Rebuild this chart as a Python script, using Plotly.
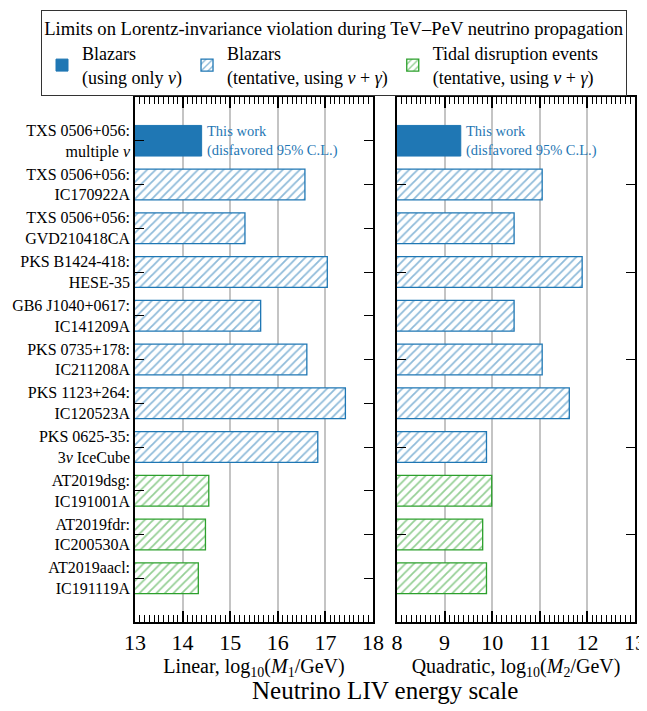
import plotly.graph_objects as go
from plotly.subplots import make_subplots

labels = [
    "TXS 0506+056:<br>multiple <i>ν</i>",
    "TXS 0506+056:<br>IC170922A",
    "TXS 0506+056:<br>GVD210418CA",
    "PKS B1424-418:<br>HESE-35",
    "GB6 J1040+0617:<br>IC141209A",
    "PKS 0735+178:<br>IC211208A",
    "PKS 1123+264:<br>IC120523A",
    "PKS 0625-35:<br>3<i>ν</i> IceCube",
    "AT2019dsg:<br>IC191001A",
    "AT2019fdr:<br>IC200530A",
    "AT2019aacl:<br>IC191119A",
]
# source class for each row: 0 = blazar (only nu), 1 = blazar tentative, 2 = TDE tentative
kind = [0, 1, 1, 1, 1, 1, 1, 1, 2, 2, 2]

linear_log10_M1 = [14.40, 16.57, 15.31, 17.04, 15.64, 16.61, 17.42, 16.84, 14.55, 14.48, 14.33]
quadratic_log10_M2 = [9.34, 11.05, 10.46, 11.89, 10.46, 11.05, 11.62, 9.88, 9.99, 9.80, 9.88]

group_names = [
    "Blazars<br>(using only <i>ν</i>)",
    "Blazars<br>(tentative, using <i>ν</i> + <i>γ</i>)",
    "Tidal disruption events<br>(tentative, using <i>ν</i> + <i>γ</i>)",
]
blue = "#1f77b4"
green = "#2ca02c"
group_colors = [blue, blue, green]
group_hatched = [False, True, True]

x_left_range = [13, 18]
x_right_range = [8, 13]
annot_text = "This work<br>(disfavored 95% C.L.)"

FONT = "Liberation Serif"

fig = make_subplots(rows=1, cols=2, shared_yaxes=False, horizontal_spacing=0.048)

for col, vals in [(1, linear_log10_M1), (2, quadratic_log10_M2)]:
    for g in range(3):
        ys = [labels[i] for i in range(len(labels)) if kind[i] == g]
        xs = [vals[i] for i in range(len(labels)) if kind[i] == g]
        c = group_colors[g]
        if group_hatched[g]:
            marker = dict(color="white", line=dict(color=c, width=1.3),
                          pattern=dict(shape="/", fgcolor=c, bgcolor="white",
                                       size=6, solidity=0.3))
        else:
            marker = dict(color=c, line=dict(color=c, width=1))
        fig.add_trace(go.Bar(
            x=xs, y=ys, orientation="h", width=0.7, marker=marker,
            name=group_names[g], showlegend=(col == 1),
            legendgroup=str(g),
        ), row=1, col=col)

# annotations "This work"
fig.add_annotation(x=linear_log10_M1[0], y=labels[0], xref="x", yref="y",
                   text=annot_text, showarrow=False, xanchor="left", align="left",
                   xshift=3, font=dict(family=FONT, size=14.5, color=blue))
fig.add_annotation(x=quadratic_log10_M2[0], y=labels[0], xref="x2", yref="y2",
                   text=annot_text, showarrow=False, xanchor="left", align="left",
                   xshift=3, font=dict(family=FONT, size=14.5, color=blue))

xcommon = dict(
    showgrid=True, gridcolor="#c4c4c4", gridwidth=1.5,
    showline=True, linecolor="black", linewidth=1.5, mirror="allticks",
    tickmode="linear", dtick=1,
    ticks="inside", ticklen=11, tickwidth=1.5, tickcolor="black",
    minor=dict(ticks="inside", ticklen=7, tickwidth=1.2, tickcolor="black", dtick=0.1, showgrid=False),
    tickfont=dict(family=FONT, size=22, color="black"),
    zeroline=False, automargin=False,
)
fig.update_xaxes(range=x_left_range, tick0=x_left_range[0], row=1, col=1, **xcommon,
                 title=dict(text="Linear, log<sub>10</sub>(<i>M</i><sub>1</sub>/GeV)",
                            font=dict(family=FONT, size=20, color="black"), standoff=4))
fig.update_xaxes(range=x_right_range, tick0=x_right_range[0], row=1, col=2, **xcommon,
                 title=dict(text="Quadratic, log<sub>10</sub>(<i>M</i><sub>2</sub>/GeV)",
                            font=dict(family=FONT, size=20, color="black"), standoff=4))

ycommon = dict(
    type="category", categoryorder="array", categoryarray=labels,
    range=[len(labels), -1],
    showline=True, linecolor="black", linewidth=1.5, mirror="allticks",
    ticks="inside", ticklen=9, tickwidth=1.2, tickcolor="black",
    showgrid=False, zeroline=False, automargin=False,
)
fig.update_yaxes(row=1, col=1, **ycommon, tickvals=labels,
                 tickfont=dict(family=FONT, size=16, color="black"))
fig.update_yaxes(row=1, col=2, **ycommon, showticklabels=False,
                 tickvals=[labels[i] for i in range(1, len(labels), 2)])

fig.update_layout(xaxis=dict(domain=[0, 0.476]), xaxis2=dict(domain=[0.524, 1.0]))

fig.add_annotation(text="Neutrino LIV energy scale", xref="paper", yref="paper",
                   x=0.5, y=-0.13, showarrow=False, yanchor="middle",
                   font=dict(family=FONT, size=25, color="black"))

# page body has an 8px margin: figure is sized/offset to compensate
fig.update_layout(
    width=639, height=703,
    margin=dict(l=127, r=12, t=89, b=89, autoexpand=False),
    paper_bgcolor="white", plot_bgcolor="white",
    barmode="overlay",
    font=dict(family=FONT, color="black"),
    legend=dict(
        orientation="h", x=-0.188, xanchor="left", y=1.1657, yanchor="top",
        bordercolor="#333333", borderwidth=1, bgcolor="white",
        font=dict(family=FONT, size=18, color="black"),
        title=dict(text="Limits on Lorentz-invariance violation during TeV–PeV neutrino propagation",
                   side="top center", font=dict(family=FONT, size=18.6, color="black")),
        traceorder="normal",
    ),
)

fig.write_html("out.html")
